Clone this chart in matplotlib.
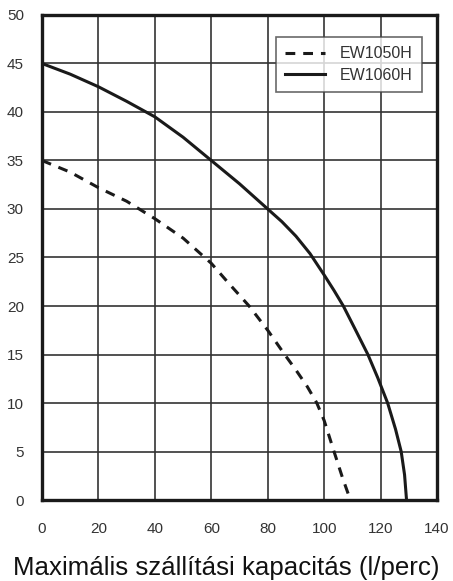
import matplotlib
matplotlib.use("Agg")
import matplotlib.pyplot as plt

# values (flow l/perc -> head m)
ew1050h_flow = [0, 10, 20, 30, 40, 50, 60, 66, 73.4, 80, 86, 90, 94, 97.4,
                100, 103.5, 106.5, 109.3]
ew1050h_head = [35, 33.8, 32.2, 30.8, 29, 27, 24.4, 22.4, 20, 17.5, 15, 13.4,
                11.7, 10, 8.2, 5, 2.3, 0]

ew1060h_flow = [0, 10, 20, 30, 40, 50, 60, 70, 80, 85, 90, 95, 100, 103.5,
                106.8, 111, 115.5, 119, 122.5, 125.3, 127.3, 128.5, 129.2]
ew1060h_head = [45, 43.9, 42.6, 41.1, 39.5, 37.4, 35, 32.6, 30, 28.7, 27.2,
                25.4, 23.2, 21.6, 20, 17.6, 15, 12.6, 10, 7.3, 5, 2.6, 0]

series_labels = ["EW1050H", "EW1060H"]
x_ticks = [0, 20, 40, 60, 80, 100, 120, 140]
y_ticks = [0, 5, 10, 15, 20, 25, 30, 35, 40, 45, 50]
x_label = "Maximális szállítási kapacitás (l/perc)"

plt.rcParams["font.family"] = ["Liberation Sans", "DejaVu Sans"]

fig = plt.figure(figsize=(4.53, 5.81), dpi=100)
ax = fig.add_axes([0.0927, 0.1394, 0.8720, 0.8348])

ax.plot(ew1050h_flow, ew1050h_head, color="#1a1a1a", lw=2.2,
        dashes=(3.2, 2.6), label=series_labels[0], zorder=3)
ax.plot(ew1060h_flow, ew1060h_head, color="#1a1a1a", lw=2.2,
        label=series_labels[1], zorder=3)

ax.set_xlim(0, 140)
ax.set_ylim(0, 50)
ax.set_xticks(x_ticks)
ax.set_yticks(y_ticks)
ax.grid(True, color="#333333", lw=1.2)
ax.set_axisbelow(True)
ax.tick_params(length=0, labelsize=11, labelcolor="#333333")
ax.tick_params(axis="x", pad=16)
ax.tick_params(axis="y", pad=13)
for spine in ax.spines.values():
    spine.set_linewidth(2.4)
    spine.set_color("#1a1a1a")

# the label is centred on the figure, not on the axes
fig.text(0.5, 1 - 568 / 581, x_label, fontsize=18.6, color="#111111",
         ha="center", va="center")

leg = ax.legend(loc="upper right", bbox_to_anchor=(0.962, 0.955),
                borderaxespad=0, fontsize=11.5, frameon=True, fancybox=False,
                handlelength=2.5, handletextpad=0.9, borderpad=0.6,
                labelspacing=0.4)
leg.get_frame().set_edgecolor("#444444")
leg.get_frame().set_linewidth(1.2)
for t in leg.get_texts():
    t.set_color("#333333")

fig.savefig("out.png", dpi=100)
